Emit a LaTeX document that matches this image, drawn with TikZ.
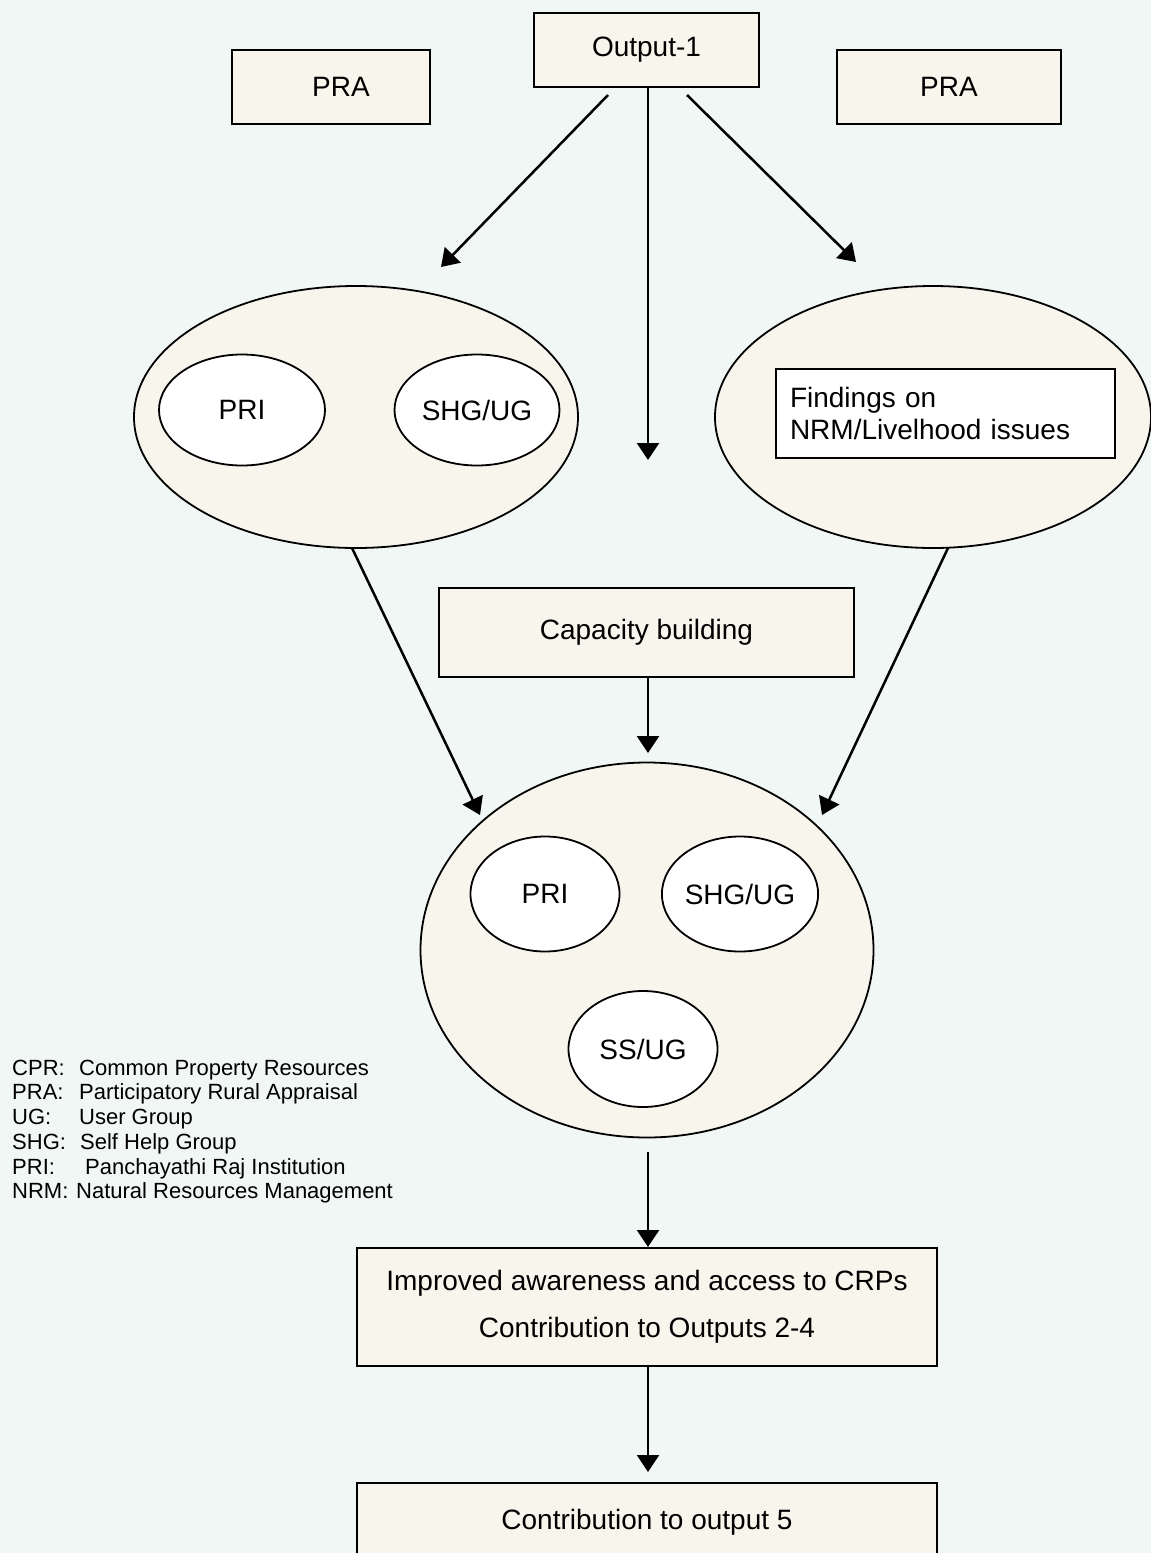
\documentclass[tikz,border=0pt]{standalone}
\usepackage{fontspec}
\setmainfont{Liberation Sans}
\usetikzlibrary{shapes.geometric,arrows.meta}
\definecolor{bgc}{RGB}{241,247,244}
\definecolor{cream}{RGB}{248,245,236}
\begin{document}
\begin{tikzpicture}[x=1pt,y=-1pt,
  box/.style={draw=black,line width=2pt,fill=cream,inner sep=0pt,font=\fontsize{28}{32}\selectfont},
  bigell/.style={ellipse,draw=black,line width=1.8pt,fill=cream,inner sep=0pt},
  smell/.style={ellipse,draw=black,line width=1.8pt,fill=white,inner sep=0pt,font=\fontsize{28}{32}\selectfont},
  legend/.style={anchor=base west,inner sep=0pt,font=\fontsize{22}{24}\selectfont},
  arr/.style={line width=2.5pt,-{Triangle[length=17pt,width=22pt]}}]
\fill[bgc] (0,0) rectangle (1151,1553);
\useasboundingbox (0,0) rectangle (1151,1553);
\clip (0,0) rectangle (1151,1553);

% top boxes
\node[box,minimum width=225pt,minimum height=74pt] (out) at (646.5,50) {Output-1};
\node[box,minimum width=198pt,minimum height=74pt] (pral) at (331,87) {\hspace*{20pt}PRA};
\node[box,minimum width=224pt,minimum height=74pt] (prar) at (949,87) {PRA};

% upper ellipses
\node[bigell,minimum width=444pt,minimum height=262pt] (lell) at (356,417) {};
\node[smell,minimum width=166pt,minimum height=111pt] (lpri) at (242,410) {PRI};
\node[smell,minimum width=165pt,minimum height=111pt] (lshg) at (477,410) {SHG/UG};

\node[bigell,minimum width=436pt,minimum height=262pt] (rell) at (933,417) {};
\node[box,fill=white,text width=311pt,inner xsep=14pt,minimum height=89pt,align=left] (find) at (945.5,413.5) {Findings on\\NRM/Livelhood issues};

% capacity
\node[box,minimum width=415pt,minimum height=89pt] (cap) at (646.5,632) {Capacity building};

% bottom ellipse
\node[bigell,minimum width=453pt,minimum height=375pt] (bell) at (647,950) {};
\node[smell,minimum width=149pt,minimum height=115pt] (bpri) at (545,894) {PRI};
\node[smell,minimum width=148pt,minimum height=115pt] (bshg) at (740,894) {SHG/UG};
\node[smell,minimum width=149pt,minimum height=116pt] (bss) at (643,1049) {SS/UG};

% lower boxes
\node[box,minimum width=580pt,minimum height=118pt,align=center] (imp) at (647,1307) {Improved awareness and access to CRPs\\[15pt]Contribution to Outputs 2-4};
\node[box,minimum width=580pt,minimum height=78pt] (fin) at (647,1522) {Contribution to output 5};

% legend
\node[legend] (l1) at (12,1075) {\makebox[67pt][l]{CPR:}Common Property Resources};
\node[legend] (l2) at (12,1099) {\makebox[67pt][l]{PRA:}Participatory Rural Appraisal};
\node[legend] (l3) at (12,1124) {\makebox[67pt][l]{UG:}User Group};
\node[legend] (l4) at (12,1149) {\makebox[68pt][l]{SHG:}Self Help Group};
\node[legend] (l5) at (12,1174) {\makebox[73pt][l]{PRI:}Panchayathi Raj Institution};
\node[legend] (l6) at (12,1198) {\makebox[64pt][l]{NRM:}Natural Resources Management};

% connector end points
\coordinate (oL) at (608,95);
\coordinate (tL) at (441,267);
\coordinate (oR) at (687,95);
\coordinate (tR) at (856,262);
\coordinate (tM) at (648,460);
\coordinate (lS) at (352,548);
\coordinate (lT) at (480,815);
\coordinate (rS) at (948,548);
\coordinate (rT) at (822,815);
\coordinate (cT) at (648,753);
\coordinate (bS) at (648,1152);
\coordinate (fT) at (648,1472);

% connectors
\draw[arr] (oL) -- (tL);
\draw[arr] (out.south -| tM) -- (tM);
\draw[arr] (oR) -- (tR);
\draw[arr] (lS) -- (lT);
\draw[arr] (rS) -- (rT);
\draw[arr] (cap.south -| cT) -- (cT);
\draw[arr] (bS) -- (imp.north -| bS);
\draw[arr] (imp.south -| fT) -- (fT);
\end{tikzpicture}
\end{document}
